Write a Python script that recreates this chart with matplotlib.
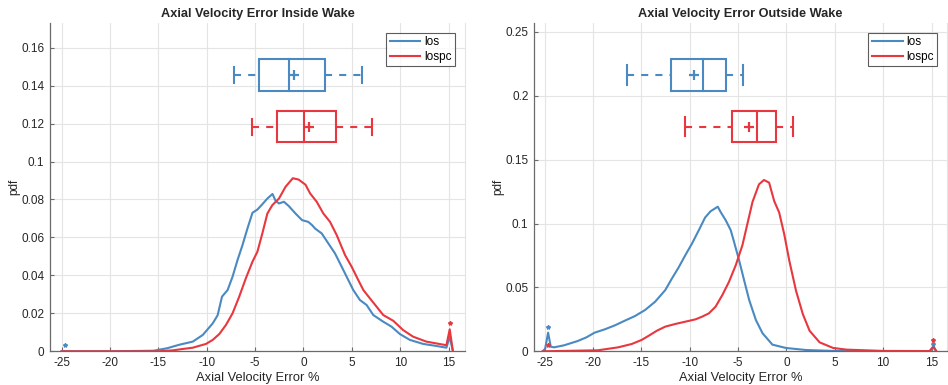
import matplotlib
matplotlib.use("Agg")
import matplotlib.pyplot as plt
from matplotlib.lines import Line2D

plt.rcParams['font.family'] = ['Liberation Sans', 'DejaVu Sans']

# ---------------- data ----------------
xticks_vals = [-25, -20, -15, -10, -5, 0, 5, 10, 15]
series_names = ["los", "lospc"]

# Inside wake pdf curves
in_los_x = [-25.0, -20.0, -15.5, -14.1, -12.8, -11.44, -10.41, -9.38, -8.87, -8.42, -7.84, -7.33,
            -6.82, -6.30, -5.79, -5.27, -4.76, -4.25, -3.73, -3.2, -2.88, -2.53, -2.02, -1.51,
            -0.82, -0.14, 0.5, 0.89, 1.2, 1.89, 2.58, 3.26, 3.95, 4.64, 5.15, 5.84, 6.53, 7.22,
            8.25, 9.1, 9.97, 11.0, 12.37, 13.75, 14.78, 15.12, 15.45]
in_los_y = [0.0, 0.0, 0.0003, 0.0016, 0.0035, 0.0051, 0.0086, 0.0147, 0.019, 0.0288, 0.0323, 0.0393,
            0.048, 0.056, 0.0647, 0.073, 0.0747, 0.0775, 0.0805, 0.0829, 0.0793, 0.0779, 0.0788, 0.0765,
            0.0726, 0.0691, 0.0682, 0.0665, 0.0647, 0.0621, 0.0568, 0.0516, 0.0446, 0.0375, 0.0323,
            0.027, 0.0244, 0.0191, 0.0156, 0.013, 0.0091, 0.006, 0.0039, 0.0028, 0.0019, 0.0077, 0.0]

in_lospc_x = [-25.0, -20.0, -15.0, -13.5, -12.8, -11.44, -10.07, -9.38, -8.7, -8.01, -7.33, -6.64,
              -5.96, -5.27, -4.76, -4.25, -3.73, -3.22, -2.53, -1.85, -1.1, -0.5, 0.21, 0.69, 1.37,
              2.06, 2.75, 3.44, 4.3, 4.98, 5.67, 6.19, 6.87, 7.56, 8.25, 9.28, 10.3, 11.34, 12.71,
              14.78, 15.12, 15.45]
in_lospc_y = [0.0, 0.0, 0.0, 0.0005, 0.001, 0.0019, 0.0039, 0.006, 0.0091, 0.0139, 0.02, 0.0288,
              0.0384, 0.0472, 0.0525, 0.0621, 0.0726, 0.077, 0.0805, 0.0867, 0.0912, 0.0905, 0.0878,
              0.0832, 0.0788, 0.0726, 0.0682, 0.0612, 0.0507, 0.0446, 0.0375, 0.0323, 0.0279, 0.0235,
              0.0191, 0.0161, 0.0112, 0.0077, 0.0051, 0.0032, 0.0116, 0.0]

# Outside wake pdf curves
out_los_x = [-25.2, -24.95, -24.64, -24.37, -24.02, -22.99, -21.6, -20.69, -19.83, -18.78, -17.74,
             -16.7, -15.66, -14.62, -13.58, -12.53, -11.84, -11.15, -10.45, -9.76, -9.06, -8.41,
             -7.85, -7.1, -6.81, -6.28, -5.76, -5.42, -4.9, -4.38, -3.85, -3.16, -2.47, -1.45,
             -0.05, 2.04, 4.83, 10.0, 14.8, 15.2, 15.5]
out_los_y = [0.0, 0.002, 0.0146, 0.0036, 0.0031, 0.0047, 0.008, 0.0109, 0.0146, 0.0172, 0.0203,
             0.024, 0.0276, 0.0323, 0.0388, 0.0479, 0.057, 0.0656, 0.0753, 0.0844, 0.0948, 0.1047,
             0.1096, 0.1132, 0.1091, 0.1026, 0.0948, 0.0857, 0.0714, 0.0557, 0.0401, 0.0245, 0.0141,
             0.0052, 0.0026, 0.001, 0.0003, 0.0, 0.0, 0.003, 0.0]

out_lospc_x = [-25.2, -21.56, -19.48, -17.4, -16.0, -14.97, -14.1, -13.4, -12.53, -11.49, -10.45,
               -9.41, -8.72, -8.02, -7.33, -6.63, -5.94, -5.24, -4.55, -4.03, -3.51, -2.84, -2.32,
               -1.79, -1.27, -0.75, -0.23, 0.3, 0.99, 1.69, 2.39, 3.43, 4.83, 6.22, 10.0, 14.8,
               15.2, 15.5]
out_lospc_y = [0.0, 0.0005, 0.0008, 0.0031, 0.0057, 0.0089, 0.0128, 0.0161, 0.0193, 0.0214, 0.0232,
               0.025, 0.0271, 0.0297, 0.0349, 0.044, 0.0544, 0.0674, 0.0831, 0.1, 0.1169, 0.1307,
               0.1341, 0.132, 0.1177, 0.1086, 0.0917, 0.0708, 0.0474, 0.0292, 0.0161, 0.007, 0.0026,
               0.0013, 0.0003, 0.0002, 0.004, 0.0]

# Box-plot summaries: [whisker low, q1, median, q3, whisker high], mean, vertical position
in_box_los = [-7.13, -4.55, -1.45, 2.27, 6.06]
in_mean_los = -0.96
in_box_lospc = [-5.27, -2.75, 0.07, 3.38, 7.1]
in_mean_lospc = 0.59
in_box_pos = [0.1456, 0.1184]

out_box_los = [-16.5, -11.9, -8.6, -6.3, -4.45]
out_mean_los = -9.55
out_box_lospc = [-10.5, -5.58, -3.0, -1.03, 0.69]
out_mean_lospc = -3.83
out_box_pos = [0.2163, 0.1759]

# asterisk markers (x, y) per series
in_star_los = ([-24.7], [0.0033])
in_star_lospc = ([15.2], [0.0148])
out_star_los = ([-24.7, 15.2], [0.019, 0.0055])
out_star_lospc = ([-24.7, 15.2], [0.005, 0.0088])

# ---------------- style ----------------
C_BLUE = '#4a89c1'
C_RED = '#e8373e'
AX_COL = '#6a6a6a'
TXT = '#262626'

fig = plt.figure(figsize=(9.48, 3.85), dpi=100)
ax1 = fig.add_axes([50/948, 33.7/385, 415/948, 328.3/385])
ax2 = fig.add_axes([534/948, 33.7/385, 413/948, 328.3/385])


def draw_box(ax, stats, mean, ypos, half, caph, color):
    wl, q1, med, q3, wh = stats
    lw = 1.5
    ax.plot([q1, q3, q3, q1, q1], [ypos - half, ypos - half, ypos + half, ypos + half, ypos - half],
            color=color, lw=lw, solid_joinstyle='miter')
    ax.plot([med, med], [ypos - half, ypos + half], color=color, lw=lw)
    ax.plot([wl, q1], [ypos, ypos], color=color, lw=lw, linestyle=(0, (3.4, 3.4)))
    ax.plot([q3, wh], [ypos, ypos], color=color, lw=lw, linestyle=(0, (3.4, 3.4)))
    ax.plot([wl, wl], [ypos - caph, ypos + caph], color=color, lw=lw)
    ax.plot([wh, wh], [ypos - caph, ypos + caph], color=color, lw=lw)
    ax.plot([mean], [ypos], marker='+', ms=7, mew=1.6, color=color, ls='none')


def style_ax(ax, ylim, yticks, ylabels, title):
    ax.set_xlim(-26.2, 16.7)
    ax.set_ylim(*ylim)
    ax.set_xticks(xticks_vals)
    ax.set_xticklabels([str(v) for v in xticks_vals])
    ax.set_yticks(yticks)
    ax.set_yticklabels(ylabels)
    ax.grid(True, color='#e4e4e4', lw=0.8)
    ax.set_axisbelow(True)
    ax.spines['top'].set_visible(False)
    ax.spines['right'].set_color('#e4e4e4')
    ax.spines['right'].set_linewidth(0.8)
    for s in ['left', 'bottom']:
        ax.spines[s].set_color(AX_COL)
        ax.spines[s].set_linewidth(0.9)
    ax.tick_params(direction='in', length=3, width=0.8, color=AX_COL, labelsize=8.5,
                   labelcolor=TXT, pad=4)
    ax.tick_params(axis='y', right=False)
    ax.set_xlabel('Axial Velocity Error %', fontsize=9.3, color=TXT, labelpad=2)
    ax.set_ylabel('pdf', fontsize=8.5, color=TXT, labelpad=0.5)
    ax.set_title(title, fontsize=9.2, fontweight='bold', color=TXT, pad=4)
    handles = [Line2D([0], [0], color=C_BLUE, lw=1.5), Line2D([0], [0], color=C_RED, lw=1.5)]
    leg = ax.legend(handles, series_names, loc='upper right', bbox_to_anchor=(0.976, 0.97),
                    fontsize=8.5, frameon=True, fancybox=False, handlelength=2.6,
                    handletextpad=0.3, borderpad=0.3, labelspacing=0.2, borderaxespad=0)
    leg.get_frame().set_edgecolor('#333333')
    leg.get_frame().set_linewidth(0.8)


# ---- left panel ----
ax1.plot(in_los_x, in_los_y, color=C_BLUE, lw=1.5)
ax1.plot(in_lospc_x, in_lospc_y, color=C_RED, lw=1.5)
ax1.plot(*in_star_los, ls='none', marker='*', ms=3, color=C_BLUE)
ax1.plot(*in_star_lospc, ls='none', marker='*', ms=3, color=C_RED)
draw_box(ax1, in_box_los, in_mean_los, in_box_pos[0], 0.0083, 0.0042, C_BLUE)
draw_box(ax1, in_box_lospc, in_mean_lospc, in_box_pos[1], 0.0083, 0.0042, C_RED)
style_ax(ax1, (0, 0.173), [0, 0.02, 0.04, 0.06, 0.08, 0.1, 0.12, 0.14, 0.16],
         ['0', '0.02', '0.04', '0.06', '0.08', '0.1', '0.12', '0.14', '0.16'],
         'Axial Velocity Error Inside Wake')

# ---- right panel ----
ax2.plot(out_los_x, out_los_y, color=C_BLUE, lw=1.5)
ax2.plot(out_lospc_x, out_lospc_y, color=C_RED, lw=1.5)
ax2.plot(*out_star_los, ls='none', marker='*', ms=3, color=C_BLUE)
ax2.plot(*out_star_lospc, ls='none', marker='*', ms=3, color=C_RED)
draw_box(ax2, out_box_los, out_mean_los, out_box_pos[0], 0.0123, 0.0075, C_BLUE)
draw_box(ax2, out_box_lospc, out_mean_lospc, out_box_pos[1], 0.0123, 0.0075, C_RED)
style_ax(ax2, (0, 0.257), [0, 0.05, 0.1, 0.15, 0.2, 0.25],
         ['0', '0.05', '0.1', '0.15', '0.2', '0.25'],
         'Axial Velocity Error Outside Wake')
ax2.set_xlim(-26.1, 16.6)

fig.savefig('out.png', dpi=100)
